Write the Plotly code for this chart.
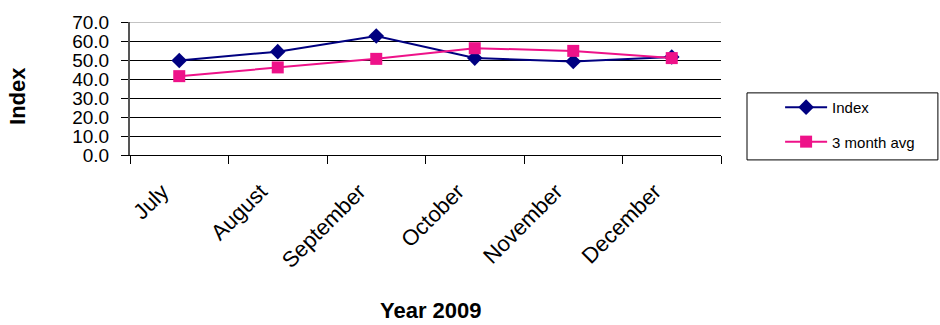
import plotly.graph_objects as go

months = ["July", "August", "September", "October", "November", "December"]
index_values = [49.7, 54.4, 62.6, 51.0, 49.2, 51.6]
avg_values = [41.5, 46.1, 50.6, 56.2, 54.8, 51.0]
y_ticks = [0, 10, 20, 30, 40, 50, 60, 70]

FONT = "Liberation Sans, Arial, sans-serif"

fig = go.Figure()
fig.add_trace(go.Scatter(
    x=months, y=index_values, name="Index", mode="lines+markers",
    line=dict(color="#000080", width=2),
    marker=dict(symbol="diamond", size=12, color="#000080"),
    legendgroup="a",
))
fig.add_trace(go.Scatter(
    x=months, y=avg_values, name="3 month avg", mode="lines+markers",
    line=dict(color="#EE1289", width=2),
    marker=dict(symbol="square", size=12, color="#EE1289"),
    legendgroup="b",
))

# legend frame
fig.add_shape(type="rect", xref="paper", yref="paper",
              x0=1.044, x1=1.367, y0=-0.037, y1=0.467,
              line=dict(color="#000000", width=1), fillcolor="rgba(0,0,0,0)")

# top gridline is lighter than the rest
fig.add_shape(type="line", xref="paper", yref="y", x0=0, x1=1, y0=70, y1=70,
              line=dict(color="#888888", width=1))

# axis titles
fig.add_annotation(text="<b>Index</b>", xref="paper", yref="paper",
                   x=-0.1895, y=0.444, xanchor="center", yanchor="middle",
                   showarrow=False, textangle=-90,
                   font=dict(size=22, family=FONT, color="#000"))
fig.add_annotation(text="<b>Year 2009</b>", xref="paper", yref="paper",
                   x=0.509, y=-1.17, xanchor="center", yanchor="middle",
                   showarrow=False,
                   font=dict(size=22, family=FONT, color="#000"))

fig.update_layout(
    width=940, height=325,
    margin=dict(l=130, r=219, t=20, b=170),
    paper_bgcolor="white", plot_bgcolor="white",
    font=dict(family=FONT, color="#000000"),
    showlegend=True,
    legend=dict(x=1.1, y=0.482, xanchor="left", yanchor="top",
                font=dict(size=15, family=FONT),
                bgcolor="rgba(0,0,0,0)", borderwidth=0,
                tracegroupgap=12, itemwidth=42),
    xaxis=dict(
        type="category", range=[-0.5, 5.5],
        tickson="boundaries", ticks="outside", ticklen=8, tickcolor="#000",
        showline=True, linecolor="#000", linewidth=1,
        showgrid=False, tickangle=-45,
        tickfont=dict(size=22, family=FONT),
        ticklabelstandoff=14, ticklabelshift=-17,
    ),
    yaxis=dict(
        range=[0, 70], tickvals=y_ticks, tickformat=".1f",
        ticks="outside", ticklen=7, tickcolor="#000",
        showline=True, linecolor="#555", linewidth=2,
        showgrid=True, gridcolor="#000", gridwidth=1, zeroline=False,
        tickfont=dict(size=19, family=FONT),
        ticklabelstandoff=8,
    ),
)

fig.write_html("out.html")
